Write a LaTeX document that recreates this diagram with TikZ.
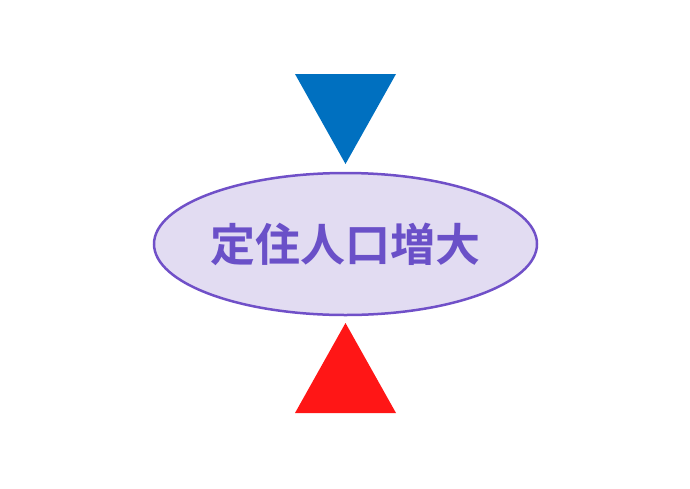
\documentclass[tikz,border=0pt]{standalone}
\usepackage{fontspec}
\newfontfamily\cjk{Noto Sans CJK JP}[BoldFont={Noto Sans CJK JP Bold}]
\usetikzlibrary{shapes.geometric}
\definecolor{goalline}{RGB}{112,80,200}
\definecolor{goalfill}{RGB}{226,220,242}
\definecolor{goaltext}{RGB}{106,80,200}
\definecolor{downblue}{RGB}{0,112,192}
\definecolor{upred}{RGB}{255,22,22}
\begin{document}
\begin{tikzpicture}[x=1pt,y=-1pt,
    goal/.style={draw=goalline,fill=goalfill,ellipse,line width=2.5pt,
        minimum width=383pt,minimum height=142pt,inner sep=0pt,
        text=goaltext,font=\cjk\bfseries\fontsize{45}{45}\selectfont}]
    \useasboundingbox (0,0) rectangle (690,488);

    \node[goal] (goal) at (345.5,244) {定住人口増大};

    % arrows pointing at the goal
    \fill[downblue] (295,74) -- (396,74) -- (345.5,164) -- cycle;
    \fill[upred] (345.5,323) -- (396,413) -- (295,413) -- cycle;
\end{tikzpicture}
\end{document}
